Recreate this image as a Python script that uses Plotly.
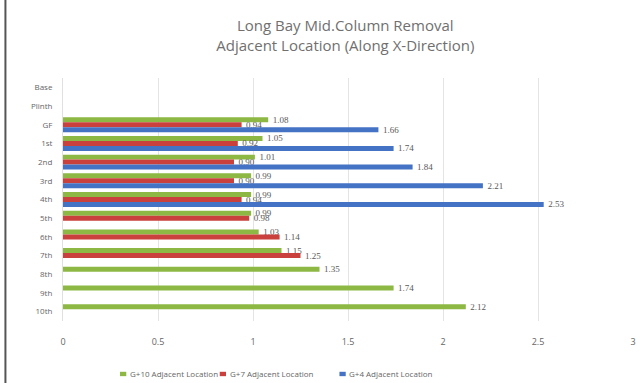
import plotly.graph_objects as go

floors = ["Base", "Plinth", "GF", "1st", "2nd", "3rd", "4th", "5th", "6th", "7th", "8th", "9th", "10th"]
g10 = [None, None, 1.08, 1.05, 1.01, 0.99, 0.99, 0.99, 1.03, 1.15, 1.35, 1.74, 2.12]
g7 = [None, None, 0.94, 0.92, 0.90, 0.90, 0.94, 0.98, 1.14, 1.25, None, None, None]
g4 = [None, None, 1.66, 1.74, 1.84, 2.21, 2.53, None, None, None, None, None, None]

series = [
    ("G+10 Adjacent Location", g10, "#8DB843"),
    ("G+7 Adjacent Location", g7, "#C9403C"),
    ("G+4 Adjacent Location", g4, "#4472C4"),
]

fig = go.Figure()
for name, vals, col in series:
    fig.add_trace(go.Bar(
        y=floors, x=vals, name=name, orientation="h",
        marker=dict(color=col, line=dict(width=0)),
        text=["" if v is None else f"  {v:.2f}" for v in vals],
        textposition="outside", constraintext="none", cliponaxis=False,
        textfont=dict(size=9, color="#595959", family="Liberation Serif"),
        showlegend=False,
    ))

# custom legend (compact, like the reference)
legend_x = [0.1, 0.275, 0.485]
shapes = [
    dict(type="line", xref="paper", yref="paper", x0=-0.101, x1=-0.101, y0=-0.3, y1=1.35,
         line=dict(color="#555555", width=2)),
]
annotations = []
for (name, vals, col), lx in zip(series, legend_x):
    shapes.append(dict(type="rect", xref="paper", yref="paper",
                       x0=lx, x1=lx + 0.011, y0=-0.227, y1=-0.209,
                       fillcolor=col, line=dict(width=0)))
    annotations.append(dict(text=name, xref="paper", yref="paper", x=lx + 0.014, y=-0.218,
                            xanchor="left", yanchor="middle", showarrow=False,
                            font=dict(size=8, color="#666666")))

fig.update_layout(
    width=643, height=383,
    margin=dict(l=63, r=7, t=78, b=62),
    paper_bgcolor="white", plot_bgcolor="white",
    barmode="group", bargap=0.2, bargroupgap=0,
    font=dict(family="Open Sans, Liberation Sans, sans-serif", color="#595959"),
    title=dict(
        text="Long Bay Mid.Column Removal<br>Adjacent Location (Along X-Direction)",
        x=0.537, xanchor="center", y=0.918, yanchor="top",
        font=dict(size=15, color="#707070"),
    ),
    xaxis=dict(
        range=[0, 3], dtick=0.5, showgrid=True, gridcolor="#E4E4E4", gridwidth=1,
        zeroline=False, showline=False, ticks="", tickfont=dict(size=9, color="#666666"),
        ticklabelstandoff=14,
    ),
    yaxis=dict(
        autorange="reversed", showgrid=False, zeroline=False, showline=True,
        linecolor="#E0E0E0", ticks="", tickfont=dict(size=8, color="#666666"),
        ticklabelstandoff=8,
    ),
    showlegend=False,
    shapes=shapes,
    annotations=annotations,
)

fig.write_html("out.html")
